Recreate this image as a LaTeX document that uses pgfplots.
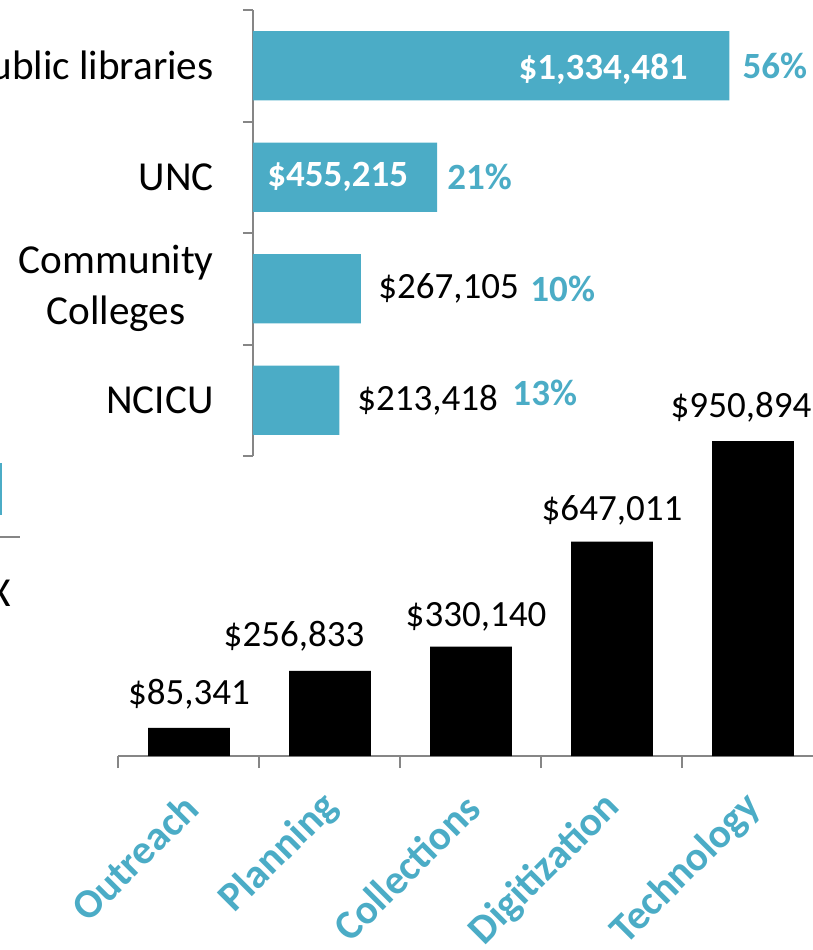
\documentclass[border=0pt]{standalone}
\usepackage{pgfplots}
\pgfplotsset{compat=1.18}
\usepackage{fontspec}
\setmainfont{Carlito}
\definecolor{accent}{HTML}{4BACC6}
\definecolor{axisgray}{HTML}{868686}
\newcommand{\catfont}{\fontsize{20.6}{25.5}\selectfont}
\newcommand{\valfont}{\fontsize{18.5}{22}\selectfont}

\begin{document}
\begin{tikzpicture}
\useasboundingbox (0,0) rectangle (406.5pt,-475pt);
\clip (0,0) rectangle (406.5pt,-475pt);

% bits of the slide that the crop cuts through
\fill[accent] (0,-231.5pt) rectangle (1pt,-257.5pt);
\draw[axisgray, line width=1pt] (0,-268.5pt) -- (10pt,-268.5pt);
\node[font=\catfont, inner sep=0pt] at (0,-296.5pt) {X};

% funding by sector
\begin{axis}[
  at={(126.5pt,-228pt)}, anchor=south west,
  scale only axis, width=280pt, height=223pt,
  xmin=0, xmax=1385000, ymin=-0.5, ymax=3.5,
  axis x line=none, axis y line*=left,
  axis line style={draw=axisgray, line width=1pt},
  ytick={0,1,2,3},
  yticklabels={NCICU, {Community\\Colleges}, UNC, Public libraries},
  major tick length=0pt,
  minor ytick={-0.5,0.5,1.5,2.5,3.5},
  minor tick length=5pt,
  tick align=outside,
  minor tick style={draw=axisgray, line width=1pt},
  yticklabel style={font=\catfont, align=center, inner sep=0pt, xshift=-19.5pt},
  clip=false,
]
\addplot[xbar, fill=accent, draw=none, bar width=0.62] coordinates {
  (213418,0) (267105,1) (455215,2) (1178000,3)
};
\node[anchor=east, inner sep=0pt, text=white, font=\valfont\bfseries] at (axis cs:1076000,2.97) {\$1,334,481};
\node[anchor=west, inner sep=0pt, text=accent, font=\valfont\bfseries] at (axis cs:1209800,3) {56\%};
\node[anchor=west, inner sep=0pt, text=white, font=\valfont\bfseries] at (axis cs:34600,2) {\$455,215};
\node[anchor=west, inner sep=0pt, text=accent, font=\valfont\bfseries] at (axis cs:480000,2) {21\%};
\node[anchor=west, inner sep=0pt, font=\valfont] at (axis cs:309250,1) {\$267,105};
\node[anchor=west, inner sep=0pt, text=accent, font=\valfont\bfseries] at (axis cs:685300,1) {10\%};
\node[anchor=west, inner sep=0pt, font=\valfont] at (axis cs:257300,0) {\$213,418};
\node[anchor=west, inner sep=0pt, text=accent, font=\valfont\bfseries] at (axis cs:640800,0.07) {13\%};
\end{axis}

% funding by project type
\begin{axis}[
  at={(59.25pt,-378pt)}, anchor=south west,
  scale only axis, width=352.5pt, height=178pt,
  xmin=-0.5, xmax=4.5, ymin=0, ymax=1075000,
  axis y line=none, axis x line*=bottom,
  axis line style={draw=axisgray, line width=1pt},
  xtick={0,1,2,3,4},
  xticklabels={Outreach, Planning, Collections, Digitization, Technology},
  major tick length=0pt,
  minor xtick={-0.5,0.5,1.5,2.5,3.5,4.5},
  minor tick length=6pt,
  tick align=outside,
  minor tick style={draw=axisgray, line width=1pt},
  xticklabel style={yshift=-22.5pt, xshift=1pt, rotate=45, anchor=east, inner sep=0pt,
    font=\catfont\bfseries, text=accent},
  point meta=explicit symbolic,
  nodes near coords,
  visualization depends on={value \thisrow{dx} \as \labeldx},
  visualization depends on={value \thisrow{dy} \as \labeldy},
  nodes near coords style={font=\valfont, text=black, anchor=south, inner sep=0pt,
    xshift=\labeldx pt, yshift=\labeldy pt},
  clip=false,
]
\addplot[ybar, fill=black, draw=none, bar width=0.58] table[x=x, y=y, meta=label] {
x y      dx  dy  label
0 85341  0   9   \$85,341
1 256833 -18 9.5 \$256,833
2 330140 2.5 7.5 \$330,140
3 647011 0   8   \$647,011
4 950894 -6  9   \$950,894
};
\end{axis}
\end{tikzpicture}
\end{document}
